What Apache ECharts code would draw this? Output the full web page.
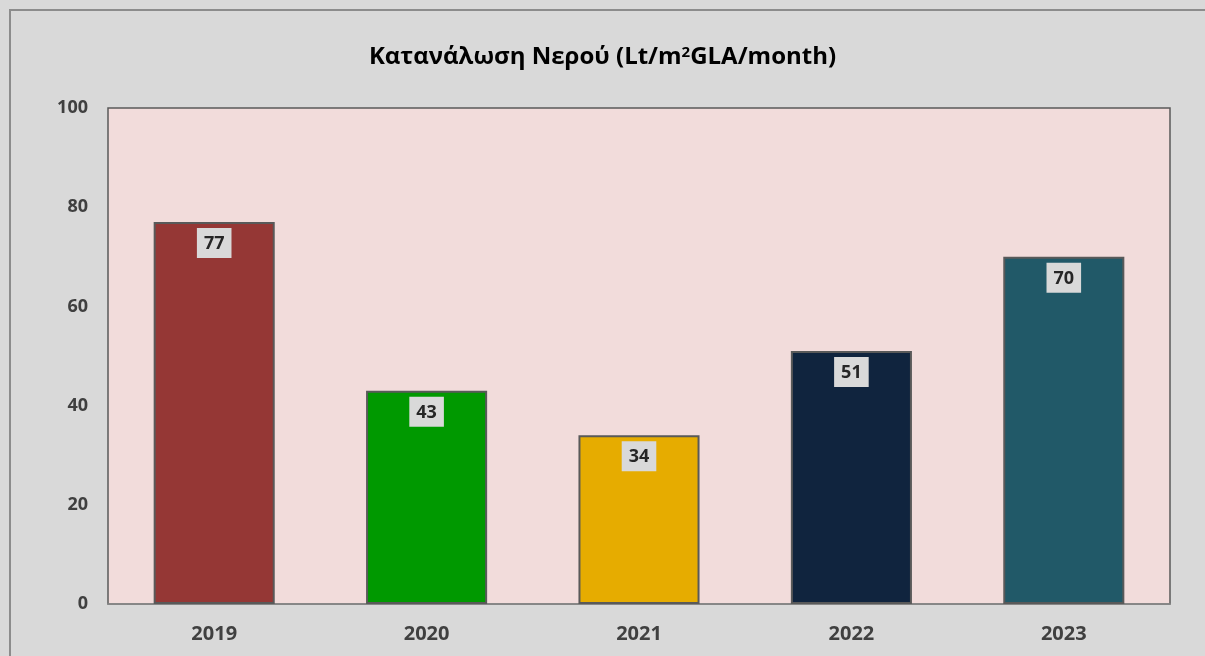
<!DOCTYPE html>
<html>
<head>
<meta charset="utf-8">
<script src="https://cdn.jsdelivr.net/npm/echarts@6/dist/echarts.min.js"></script>
<style>
  html, body { margin: 0; padding: 0; background: #d9d9d9; }
  #frame { position: absolute; left: 9px; top: 9px; width: 1200px; height: 650px;
           border-left: 2px solid #8c8c8c; border-top: 2px solid #8c8c8c; box-sizing: border-box; }
  #chart { position: absolute; left: 0; top: 0; width: 1205px; height: 656px; }
</style>
</head>
<body>
<div id="frame"></div>
<div id="chart"></div>
<script>
const years = ['2019', '2020', '2021', '2022', '2023'];
const usage = [77, 43, 34, 51, 70];
const barColors = ['#953735', '#009900', '#e6ac00', '#10243e', '#215968'];
const yTicks = [0, 20, 40, 60, 80, 100];

const chart = echarts.init(document.getElementById('chart'), null, { renderer: 'canvas' });

var option = {
  backgroundColor: 'transparent',
  textStyle: { fontFamily: 'Open Sans' },
  title: {
    text: 'Κατανάλωση Νερού (Lt/m{sup|2}GLA/month)',
    left: 'center',
    top: 40,
    textStyle: {
      fontFamily: 'Open Sans', fontSize: 24, fontWeight: 'bold', color: '#000',
      rich: { sup: { fontSize: 15, fontWeight: 'bold', color: '#000', verticalAlign: 'top', padding: [0, 0, 10, 0] } }
    }
  },
  grid: {
    left: 108, right: 35, top: 108, bottom: 52,
    show: true, backgroundColor: '#f2dcdb', borderColor: '#595959', borderWidth: 1.5
  },
  xAxis: {
    type: 'category',
    data: years,
    axisLine: { show: true, lineStyle: { color: '#8c8c8c', width: 1.5 } },
    axisTick: { show: false },
    axisLabel: { color: '#404040', fontSize: 20, fontWeight: 'bold', margin: 20 }
  },
  yAxis: {
    type: 'value',
    min: yTicks[0],
    max: yTicks[yTicks.length - 1],
    interval: 20,
    splitLine: { show: false },
    axisLine: { show: false },
    axisTick: { show: false },
    axisLabel: { color: '#404040', fontSize: 18, fontWeight: 'bold', margin: 20 }
  },
  series: [{
    type: 'bar',
    barWidth: '57%',
    data: usage.map((v, i) => ({
      value: v,
      itemStyle: { color: barColors[i], borderColor: '#595959', borderWidth: 2 }
    })),
    label: {
      show: true,
      position: 'insideTop',
      distance: 6,
      backgroundColor: '#d9d9d9',
      padding: [7, 7, 5, 7],
      color: '#262626',
      fontSize: 18,
      fontWeight: 'bold'
    }
  }]
};

chart.setOption(option);
</script>
</body>
</html>
